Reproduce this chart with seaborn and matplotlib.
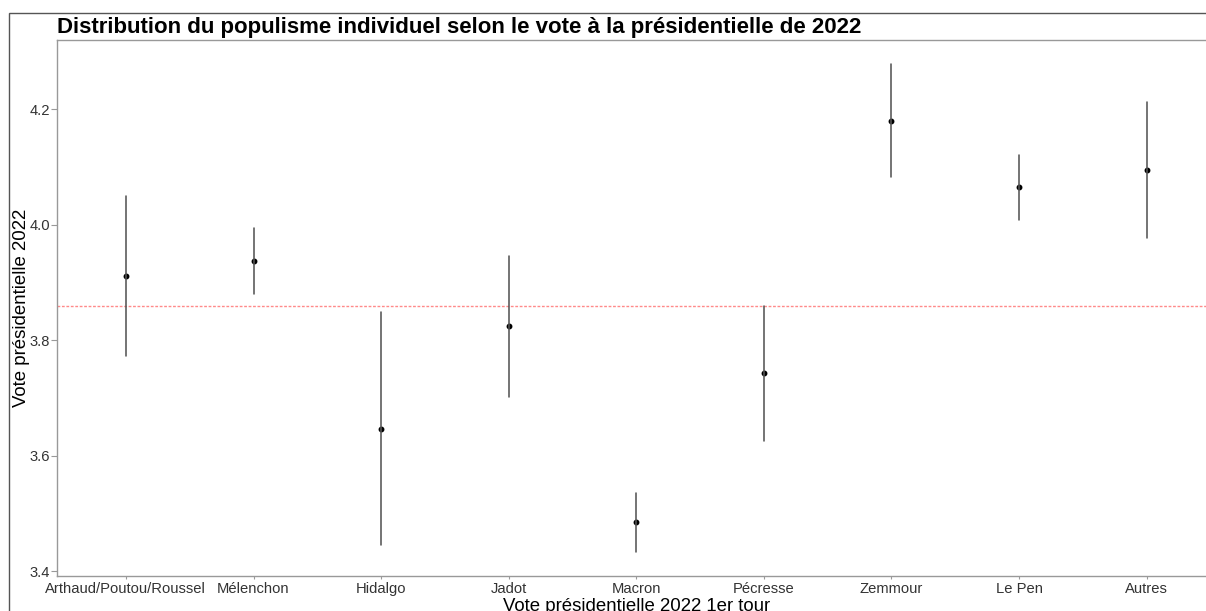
import pandas as pd
import matplotlib.pyplot as plt
import seaborn as sns
from matplotlib.patches import Rectangle

# --- Données ---
candidats = ['Arthaud/Poutou/Roussel', 'Mélenchon', 'Hidalgo', 'Jadot', 'Macron',
             'Pécresse', 'Zemmour', 'Le Pen', 'Autres']
moyenne = [3.912, 3.938, 3.647, 3.824, 3.485, 3.743, 4.180, 4.065, 4.095]
borne_inf = [3.773, 3.881, 3.445, 3.702, 3.433, 3.625, 4.082, 4.008, 3.978]
borne_sup = [4.050, 3.994, 3.849, 3.946, 3.536, 3.859, 4.278, 4.121, 4.212]
moyenne_globale = 3.859

# format long : la médiane donne la moyenne, l'intervalle 100% donne les bornes
df = pd.DataFrame({
    'vote': candidats * 3,
    'populisme': borne_inf + moyenne + borne_sup,
})

sns.set_style("white")
plt.rcParams['font.family'] = ['Liberation Sans', 'DejaVu Sans']

fig = plt.figure(figsize=(12.06, 6.11), dpi=100)
W, H = 1206, 611
ax = fig.add_axes([57 / W, (H - 576) / H, 1158.6 / W, 536 / H])

sns.pointplot(data=df, x='vote', y='populisme', order=candidats,
              estimator='median', errorbar=('pi', 100),
              linestyle='none', color='black', markersize=2.2,
              err_kws={'color': '#555555', 'linewidth': 1.15}, ax=ax)

ax.axhline(moyenne_globale, color='#ff8a8a', linestyle=(0, (2.0, 1.2)), linewidth=1.0, zorder=0)

ax.set_xlim(-0.54, 8.54)
ax.set_ylim(3.392, 4.320)
ax.set_yticks([3.4, 3.6, 3.8, 4.0, 4.2])
ax.set_yticklabels(['3.4', '3.6', '3.8', '4.0', '4.2'])

for s in ax.spines.values():
    s.set_color('#999999')
    s.set_linewidth(1.0)

ax.tick_params(axis='y', length=4, width=0.8, color='#999999', labelsize=10.6,
               labelcolor='#333333', pad=1, left=True)
ax.tick_params(axis='x', length=2.5, width=0.8, color='#999999', labelsize=10.6,
               labelcolor='#333333', pad=2, bottom=True)

ax.set_xlabel('Vote présidentielle 2022 1er tour', fontsize=13.4, color='black', labelpad=1.5)
ax.set_ylabel('Vote présidentielle 2022', fontsize=13.4, color='black', labelpad=-0.5)
ax.set_title('Distribution du populisme individuel selon le vote à la présidentielle de 2022',
             loc='left', fontsize=16.05, fontweight='bold', color='black', pad=5)

# cadre extérieur de la figure
fig.patches.append(Rectangle((9 / W, -0.1), 1.2, 1 - 13 / H + 0.1, transform=fig.transFigure,
                             fill=False, edgecolor='#555555', linewidth=1.0))

plt.savefig('out.png', dpi=100)
